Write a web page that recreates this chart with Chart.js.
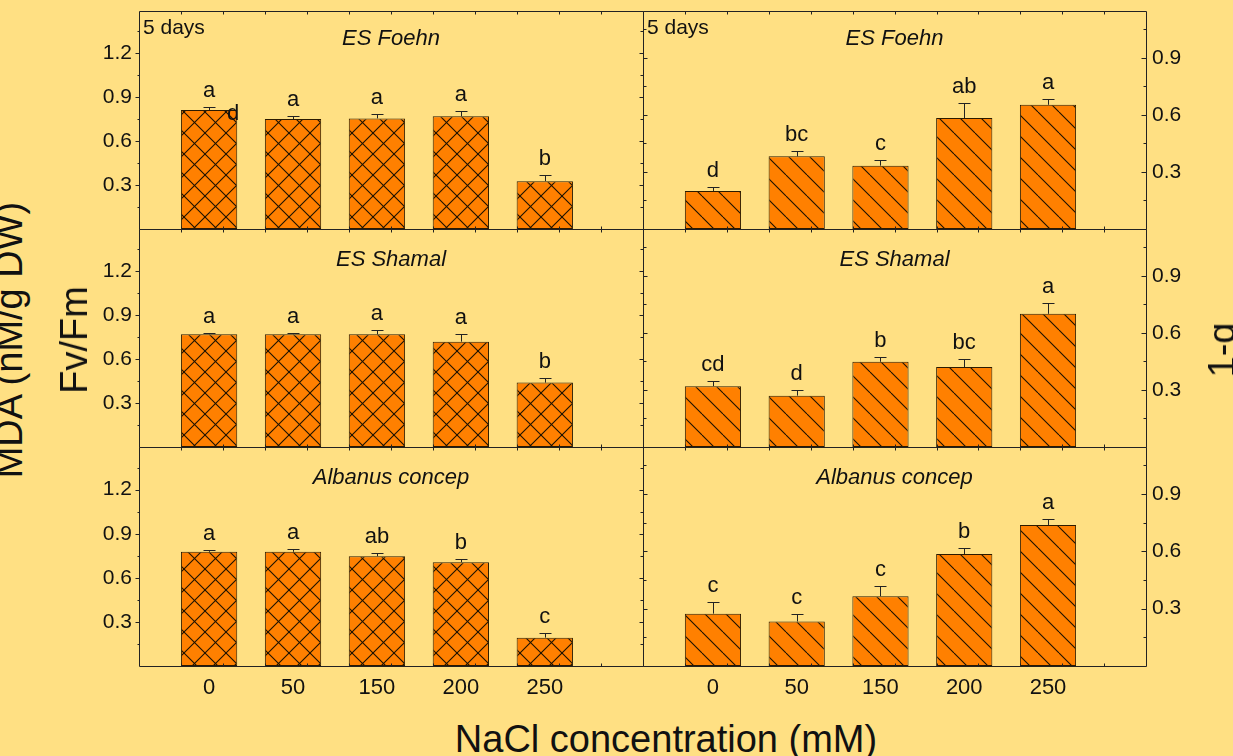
<!DOCTYPE html>
<html><head><meta charset="utf-8">
<script src="https://cdn.jsdelivr.net/npm/chart.js@4.4.1/dist/chart.umd.min.js"></script>
<style>
html,body{margin:0;padding:0;background:#FFE083;}
#wrap{position:relative;width:1233px;height:756px;overflow:hidden;background:#FFE083;}
canvas.p{position:absolute;}
.lbl{position:absolute;font-family:"Liberation Sans",Arial,sans-serif;color:#111;white-space:nowrap;font-size:38px;line-height:38px;}
.rot{transform:translate(-50%,-50%) rotate(-90deg);}
</style></head><body>
<div id="wrap">
<canvas class="p" id="c0"></canvas>
<canvas class="p" id="c1"></canvas>
<canvas class="p" id="c2"></canvas>
<canvas class="p" id="c3"></canvas>
<canvas class="p" id="c4"></canvas>
<canvas class="p" id="c5"></canvas>
<div class="lbl rot" style="left:9px;top:340px;">MDA (nM/g DW)</div>
<div class="lbl rot" style="left:74px;top:340px;">Fv/Fm</div>
<div class="lbl rot" style="left:1222px;top:350px;">1-q</div>
<div class="lbl" style="left:666px;top:720px;transform:translateX(-50%);">NaCl concentration (mM)</div>
</div>
<script>
const categories = ['0', '50', '150', '200', '250'];
const leftTicks = [0.3, 0.6, 0.9, 1.2];
const rightTicks = [0.3, 0.6, 0.9];
const cultivars = ['ES Foehn', 'ES Shamal', 'Albanus concep'];

const fvfmFoehn = [0.813, 0.751, 0.756, 0.770, 0.327];
const fvfmFoehnErr = [0.020, 0.021, 0.027, 0.034, 0.041];
const fvfmFoehnLetters = ['a', 'a', 'a', 'a', 'b'];
const qFoehn = [0.200, 0.382, 0.333, 0.583, 0.653];
const qFoehnErr = [0.019, 0.029, 0.028, 0.079, 0.030];
const qFoehnLetters = ['d', 'bc', 'c', 'ab', 'a'];

const fvfmShamal = [0.770, 0.770, 0.770, 0.720, 0.440];
const fvfmShamalErr = [0.008, 0.006, 0.030, 0.050, 0.032];
const fvfmShamalLetters = ['a', 'a', 'a', 'a', 'b'];
const qShamal = [0.320, 0.270, 0.448, 0.420, 0.700];
const qShamalErr = [0.028, 0.030, 0.023, 0.042, 0.055];
const qShamalLetters = ['cd', 'd', 'b', 'bc', 'a'];

const fvfmAlbanus = [0.777, 0.777, 0.747, 0.706, 0.193];
const fvfmAlbanusErr = [0.012, 0.020, 0.020, 0.020, 0.032];
const fvfmAlbanusLetters = ['a', 'a', 'ab', 'b', 'c'];
const qAlbanus = [0.274, 0.233, 0.365, 0.586, 0.738];
const qAlbanusErr = [0.060, 0.040, 0.052, 0.031, 0.032];
const qAlbanusLetters = ['c', 'c', 'c', 'b', 'a'];

const FONT = '"Liberation Sans", Arial, sans-serif';
Chart.defaults.font.family = FONT;
Chart.defaults.color = '#111';

const rowTops = [11, 229, 447];
const rowHeights = [218, 218, 219];

const panels = [
  {id:'c0', row:0, side:'left',  values:fvfmFoehn,   errs:fvfmFoehnErr,   letters:fvfmFoehnLetters,   title:cultivars[0], days:true, stray:'d', titleOff:34},
  {id:'c1', row:0, side:'right', values:qFoehn,      errs:qFoehnErr,      letters:qFoehnLetters,      title:cultivars[0], days:true, titleOff:34},
  {id:'c2', row:1, side:'left',  values:fvfmShamal,  errs:fvfmShamalErr,  letters:fvfmShamalLetters,  title:cultivars[1], titleOff:37},
  {id:'c3', row:1, side:'right', values:qShamal,     errs:qShamalErr,     letters:qShamalLetters,     title:cultivars[1], titleOff:37},
  {id:'c4', row:2, side:'left',  values:fvfmAlbanus, errs:fvfmAlbanusErr, letters:fvfmAlbanusLetters, title:cultivars[2], titleOff:37, showX:true},
  {id:'c5', row:2, side:'right', values:qAlbanus,    errs:qAlbanusErr,    letters:qAlbanusLetters,    title:cultivars[2], titleOff:37, showX:true}
];

function makePattern(cross) {
  const s = 21;
  const t = document.createElement('canvas');
  t.width = s; t.height = s;
  const g = t.getContext('2d');
  g.fillStyle = '#FF8000';
  g.fillRect(0, 0, s, s);
  g.strokeStyle = '#1a1000';
  g.lineWidth = 1.1;
  for (const k of [-s, 0, s]) {
    g.beginPath(); g.moveTo(k, 0); g.lineTo(k + s, s); g.stroke();
    if (cross) { g.beginPath(); g.moveTo(k, s); g.lineTo(k + s, 0); g.stroke(); }
  }
  return g.createPattern(t, 'repeat');
}

const deco = {
  id: 'deco',
  afterDatasetsDraw(chart, args, o) {
    const {ctx, chartArea: a} = chart;
    const x = chart.scales.x, y = chart.scales.y;
    const r = v => Math.round(v) + 0.5;
    ctx.save();
    ctx.strokeStyle = '#222';
    ctx.lineWidth = 1;
    const L = r(a.left), R = r(a.right), T = r(a.top), B = r(a.bottom);
    // frame
    ctx.beginPath();
    ctx.rect(L, T, R - L, B - T);
    ctx.stroke();
    // y ticks
    const majors = o.yTicks;
    const minors = [];
    for (let v = 0.15; v < y.max; v += 0.3) minors.push(+v.toFixed(2));
    ctx.beginPath();
    const axisX = o.side === 'left' ? L : R;
    const oppX = o.side === 'left' ? R : L;
    const inward = o.side === 'left' ? 1 : -1;
    majors.forEach(v => {
      const py = r(y.getPixelForValue(v));
      if (o.side === 'left') { ctx.moveTo(axisX - 4, py); ctx.lineTo(axisX, py); }
      else { ctx.moveTo(axisX - 5, py); ctx.lineTo(axisX, py); }
      ctx.moveTo(oppX, py); ctx.lineTo(oppX - inward * 4, py);
    });
    minors.forEach(v => {
      const py = r(y.getPixelForValue(v));
      if (o.side === 'left') { ctx.moveTo(axisX - 2, py); ctx.lineTo(axisX, py); }
      else { ctx.moveTo(axisX - 3, py); ctx.lineTo(axisX, py); }
      ctx.moveTo(oppX, py); ctx.lineTo(oppX - inward * 3, py);
    });
    // x minor ticks on top/bottom
    for (let v = -0.33; v < x.max - 0.05; v += 0.5) {
      const px = r(x.getPixelForValue(v));
      ctx.moveTo(px, T); ctx.lineTo(px, T + 3);
      ctx.moveTo(px, B); ctx.lineTo(px, B - 3);
    }
    ctx.stroke();
    // error bars
    ctx.strokeStyle = '#222';
    ctx.beginPath();
    o.values.forEach((v, i) => {
      const px = r(x.getPixelForValue(i));
      const base = y.getPixelForValue(v);
      const top = r(y.getPixelForValue(v + o.errs[i]));
      ctx.moveTo(px, base); ctx.lineTo(px, top);
      ctx.moveTo(px - 6, top); ctx.lineTo(px + 6, top);
    });
    ctx.stroke();
    // letters
    ctx.fillStyle = '#111';
    ctx.font = '22px ' + FONT;
    ctx.textAlign = 'center';
    ctx.textBaseline = 'alphabetic';
    o.values.forEach((v, i) => {
      const px = x.getPixelForValue(i);
      const top = y.getPixelForValue(v + o.errs[i]);
      ctx.fillText(o.letters[i], px, top - 10);
    });
    if (o.stray) {
      const meta = chart.getDatasetMeta(0).data[0];
      ctx.fillText(o.stray, meta.x + meta.width / 2 - 4, y.getPixelForValue(o.values[0]) + 10);
    }
    // title
    ctx.font = 'italic 22px ' + FONT;
    ctx.fillText(o.title, (a.left + a.right) / 2, a.top + o.titleOff);
    if (o.days) {
      ctx.font = '21px ' + FONT;
      ctx.textAlign = 'left';
      ctx.fillText('5 days', a.left + 4, a.top + 23);
    }
    ctx.restore();
  }
};

panels.forEach(p => {
  const cv = document.getElementById(p.id);
  const top = rowTops[p.row], h = rowHeights[p.row];
  const W = 568 + (p.side === 'right' ? 3 : 0);
  const H = 4 + h + (p.showX ? 40 : 4);
  cv.width = W; cv.height = H;
  cv.style.width = W + 'px'; cv.style.height = H + 'px';
  cv.style.left = (p.side === 'left' ? 79 : 639) + 'px';
  cv.style.top = (top - 4) + 'px';
  const ctx = cv.getContext('2d');
  const isLeft = p.side === 'left';
  const yTicks = isLeft ? leftTicks : rightTicks;
  new Chart(ctx, {
    type: 'bar',
    data: {
      datasets: [{
        data: p.values.map((v, i) => ({x: i, y: v})),
        backgroundColor: makePattern(isLeft),
        borderColor: '#2b1a00',
        borderWidth: 1,
        borderSkipped: false,
        barPercentage: 0.671,
        categoryPercentage: 1
      }]
    },
    options: {
      responsive: false, animation: false, devicePixelRatio: 1,
      layout: {padding: {top: 4, bottom: p.showX ? 0 : 4, left: isLeft ? 0 : 4, right: isLeft ? 4 : 0}},
      plugins: {
        legend: {display: false}, tooltip: {enabled: false},
        deco: {side: p.side, yTicks: yTicks, values: p.values, errs: p.errs, letters: p.letters,
               title: p.title, days: !!p.days, stray: p.stray, titleOff: p.titleOff}
      },
      scales: {
        x: {
          type: 'linear', min: -0.835, max: 5.17, offset: false,
          grid: {display: false, drawTicks: false}, border: {display: false},
          ticks: {display: !!p.showX, font: {size: 22}, color: '#111', padding: 9, maxRotation: 0,
                  callback: v => categories[v] !== undefined ? categories[v] : ''},
          afterBuildTicks: s => { s.ticks = categories.map((c, i) => ({value: i})); },
          afterFit: s => { s.height = p.showX ? 40 : 0; s.paddingLeft = 0; s.paddingRight = 0; }
        },
        y: {
          position: p.side, min: 0, max: isLeft ? 1.49 : 1.146,
          grid: {display: false, drawTicks: false}, border: {display: false},
          ticks: {font: {size: 21}, color: '#111', padding: isLeft ? 7 : 6,
                  callback: v => v.toFixed(1)},
          afterBuildTicks: s => { s.ticks = yTicks.map(v => ({value: v})); },
          afterFit: s => { s.width = isLeft ? 60 : 64; s.paddingTop = 0; s.paddingBottom = 0; }
        }
      }
    },
    plugins: [deco]
  });
});
</script>
</body></html>
